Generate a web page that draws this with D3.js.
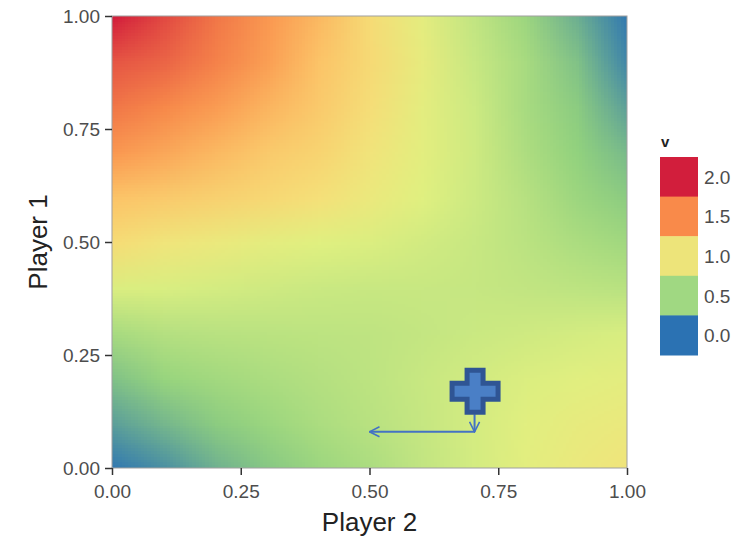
<!DOCTYPE html>
<html>
<head>
<meta charset="utf-8">
<script src="https://d3js.org/d3.v7.min.js"></script>
<style>
  body { margin: 0; background: #fff; }
  text { font-family: "Liberation Sans", Arial, sans-serif; }
</style>
</head>
<body>
<svg id="chart" width="743" height="542"></svg>
<script>
// grid positions (Player 2 on x, Player 1 on y)
const xs = [0, 0.1, 0.2, 0.3, 0.4, 0.5, 0.6, 0.7, 0.8, 0.9, 1.0];
const ys = [1.0, 0.9, 0.8, 0.7, 0.6, 0.5, 0.4, 0.3, 0.2, 0.1, 0.0];

// v, one row per Player 1 value (top to bottom)
const vRow100 = [2.05, 1.80, 1.60, 1.45, 1.30, 1.05, 0.88, 0.72, 0.55, 0.33, 0.03];
const vRow090 = [1.75, 1.68, 1.55, 1.42, 1.25, 1.07, 0.90, 0.75, 0.60, 0.42, 0.10];
const vRow080 = [1.60, 1.52, 1.43, 1.32, 1.20, 1.03, 0.88, 0.77, 0.60, 0.47, 0.25];
const vRow070 = [1.45, 1.38, 1.30, 1.20, 1.12, 0.98, 0.87, 0.78, 0.63, 0.50, 0.38];
const vRow060 = [1.25, 1.20, 1.14, 1.08, 1.02, 0.93, 0.85, 0.77, 0.67, 0.55, 0.47];
const vRow050 = [1.05, 0.97, 0.93, 0.88, 0.85, 0.83, 0.79, 0.75, 0.69, 0.62, 0.57];
const vRow040 = [0.83, 0.82, 0.80, 0.78, 0.76, 0.75, 0.75, 0.74, 0.72, 0.70, 0.68];
const vRow030 = [0.60, 0.66, 0.68, 0.69, 0.70, 0.71, 0.73, 0.76, 0.78, 0.80, 0.82];
const vRow020 = [0.42, 0.53, 0.58, 0.62, 0.66, 0.70, 0.75, 0.79, 0.83, 0.86, 0.88];
const vRow010 = [0.25, 0.37, 0.47, 0.54, 0.62, 0.68, 0.74, 0.80, 0.86, 0.90, 0.93];
const vRow000 = [0.03, 0.16, 0.34, 0.45, 0.54, 0.62, 0.72, 0.80, 0.87, 0.93, 0.98];
const vRows = [vRow100, vRow090, vRow080, vRow070, vRow060, vRow050, vRow040, vRow030, vRow020, vRow010, vRow000];

const axisTicks = [0, 0.25, 0.5, 0.75, 1];
const legendValues = [2.0, 1.5, 1.0, 0.5, 0.0];
const legendLabels = ["2.0", "1.5", "1.0", "0.5", "0.0"];

// annotation: plus marker and the arrow that leaves it (data units)
const plusAt = [0.705, 0.170];
const arrowPts = [[0.704, 0.119], [0.704, 0.080], [0.50, 0.080]];

const svg = d3.select("#chart");
const pLeft = 112, pRight = 627, pTop = 16, pBottom = 468;

const x = d3.scaleLinear().domain([0, 1]).range([pLeft, pRight]);
const y = d3.scaleLinear().domain([0, 1]).range([pBottom, pTop]);

const color = d3.scaleLinear()
  .domain([0, 0.25, 0.5, 0.75, 0.85, 1.0, 1.25, 1.5, 2.0])
  .range(["#2b73b4", "#5c9f9a", "#92d27e", "#c8e882", "#e0f080", "#f4e27a", "#fcc468", "#f98d4b", "#d21e3c"])
  .clamp(true);

// heatmap: paint the grid into a tiny canvas, then let the browser smooth it
const nx = xs.length, ny = ys.length;
const cv = document.createElement("canvas");
cv.width = nx; cv.height = ny;
const ctx = cv.getContext("2d");
const img = ctx.createImageData(nx, ny);
vRows.forEach((row, j) => {
  row.forEach((v, i) => {
    const c = d3.rgb(color(v));
    const k = (j * nx + i) * 4;
    img.data[k] = c.r; img.data[k + 1] = c.g; img.data[k + 2] = c.b; img.data[k + 3] = 255;
  });
});
ctx.putImageData(img, 0, 0);

const dx = (xs[1] - xs[0]) / 2, dy = (ys[0] - ys[1]) / 2;

svg.append("clipPath").attr("id", "plotclip")
  .append("rect")
  .attr("x", x(0)).attr("y", y(1))
  .attr("width", x(1) - x(0)).attr("height", y(0) - y(1));

svg.append("g").attr("clip-path", "url(#plotclip)")
  .append("image")
  .attr("href", cv.toDataURL())
  .attr("preserveAspectRatio", "none")
  .attr("x", x(xs[0] - dx))
  .attr("y", y(ys[0] + dy))
  .attr("width", x(xs[nx - 1] + dx) - x(xs[0] - dx))
  .attr("height", y(ys[ny - 1] - dy) - y(ys[0] + dy));

// panel border
svg.append("rect")
  .attr("x", x(0)).attr("y", y(1))
  .attr("width", x(1) - x(0)).attr("height", y(0) - y(1))
  .attr("fill", "none").attr("stroke", "#a0a0a0").attr("stroke-width", 1);

// axes
const fmt = d3.format(".2f");
const gx = svg.append("g").attr("transform", `translate(0,${pBottom})`)
  .call(d3.axisBottom(x).tickValues(axisTicks).tickFormat(fmt).tickSize(7).tickPadding(10));
const gy = svg.append("g").attr("transform", `translate(${pLeft},0)`)
  .call(d3.axisLeft(y).tickValues(axisTicks).tickFormat(fmt).tickSize(7).tickPadding(5));
[gx, gy].forEach(g => {
  g.select(".domain").remove();
  g.selectAll(".tick line").attr("stroke", "#333").attr("stroke-width", 1.5);
  g.selectAll(".tick text").attr("fill", "#4d4d4d").style("font-size", "19px");
});

svg.append("text")
  .attr("x", (pLeft + pRight) / 2).attr("y", 531)
  .attr("text-anchor", "middle")
  .attr("fill", "#222").style("font-size", "26px")
  .text("Player 2");

svg.append("text")
  .attr("transform", `translate(47,${(pTop + pBottom) / 2}) rotate(-90)`)
  .attr("text-anchor", "middle")
  .attr("fill", "#222").style("font-size", "26px")
  .text("Player 1");

// legend
const legX = 660, legTop = 157, boxW = 38, boxH = 39.6;
svg.append("text")
  .attr("x", legX + 1).attr("y", 147)
  .attr("fill", "#222").style("font-size", "15px").style("font-weight", "bold")
  .text("v");

const legColors = ["#d21e3c", "#f98a4a", "#ede47a", "#a0d882", "#2b72b3"];
const leg = svg.append("g");
leg.selectAll("rect").data(legendValues).join("rect")
  .attr("x", legX)
  .attr("y", (d, i) => legTop + i * boxH)
  .attr("width", boxW).attr("height", boxH + 0.5)
  .attr("fill", (d, i) => legColors[i]);
leg.selectAll("text").data(legendLabels).join("text")
  .attr("x", legX + boxW + 6)
  .attr("y", (d, i) => legTop + i * boxH + boxH / 2 + 7)
  .attr("fill", "#4d4d4d").style("font-size", "19px")
  .text(d => d);

// annotation
const defs = svg.append("defs");
defs.append("marker").attr("id", "openhead")
  .attr("viewBox", "0 0 12 12").attr("refX", 11).attr("refY", 6)
  .attr("markerWidth", 12).attr("markerHeight", 12)
  .attr("markerUnits", "userSpaceOnUse")
  .attr("orient", "auto")
  .append("path").attr("d", "M1,1 L11,6 L1,11")
  .attr("fill", "none").attr("stroke", "#4472c4").attr("stroke-width", 1.6);

const line = d3.line().x(d => x(d[0])).y(d => y(d[1]));
svg.append("path")
  .attr("d", line(arrowPts.slice(0, 2)))
  .attr("fill", "none").attr("stroke", "#4472c4").attr("stroke-width", 2)
  .attr("marker-end", "url(#openhead)");
svg.append("path")
  .attr("d", line(arrowPts.slice(1)))
  .attr("fill", "none").attr("stroke", "#4472c4").attr("stroke-width", 2)
  .attr("marker-end", "url(#openhead)");

const px = x(plusAt[0]), py = y(plusAt[1]);
const hw = 23, hh = 21, a = 8;
const plus = `M${px - a},${py - hh} H${px + a} V${py - a} H${px + hw} V${py + a} H${px + a} V${py + hh} H${px - a} V${py + a} H${px - hw} V${py - a} H${px - a} Z`;
svg.append("path").attr("d", plus)
  .attr("fill", "#4a7fc6").attr("stroke", "#2f5594").attr("stroke-width", 5)
  .attr("stroke-linejoin", "miter");
</script>
</body>
</html>
